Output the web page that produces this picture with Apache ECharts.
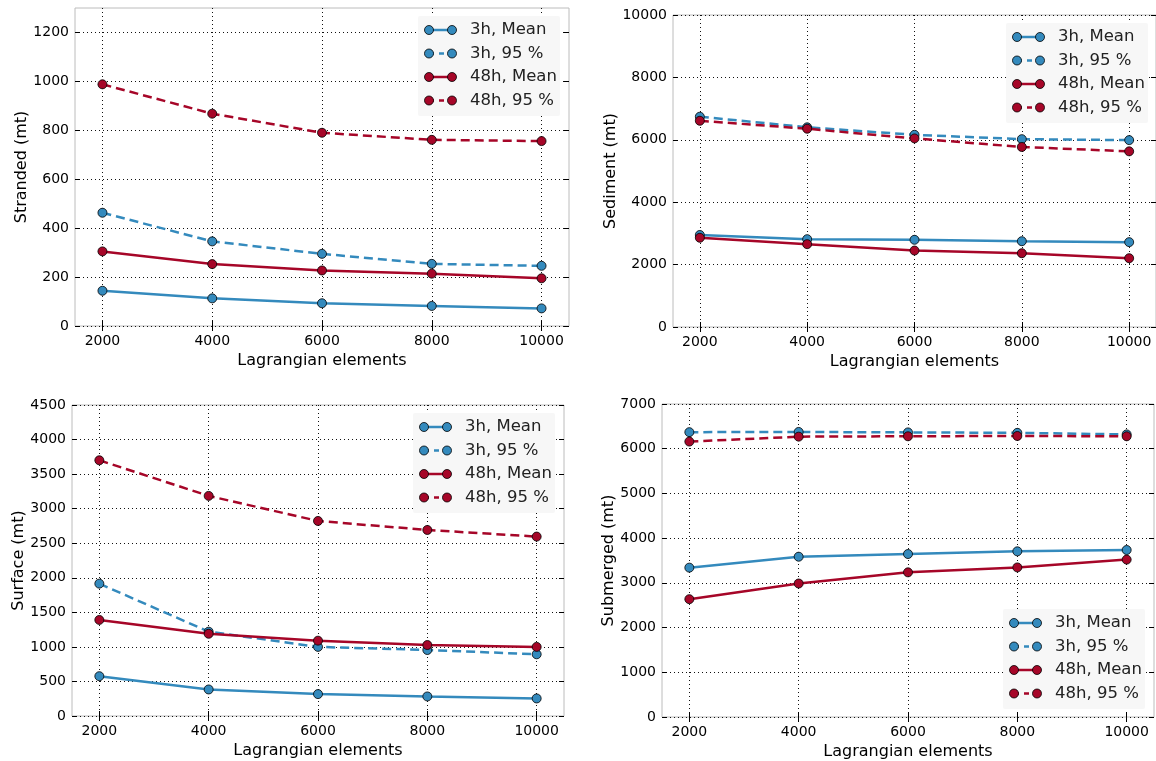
<!DOCTYPE html>
<html>
<head>
<meta charset="utf-8">
<script src="https://cdn.jsdelivr.net/npm/echarts@6/dist/echarts.min.js"></script>
<style>
  html, body { margin: 0; padding: 0; background: #fff; }
  #chart { width: 1156px; height: 761px; }
</style>
</head>
<body>
<div id="chart"></div>
<script>
// x values (number of Lagrangian elements)
const elements = [2000, 4000, 6000, 8000, 10000];
const seriesNames = ["3h, Mean", "3h, 95 %", "48h, Mean", "48h, 95 %"];

// stranded (mt)
const stranded3hMean = [144, 113, 93, 82, 72];
const stranded3h95 = [463, 346, 295, 254, 246];
const stranded48hMean = [305, 253, 227, 214, 195];
const stranded48h95 = [988, 868, 790, 761, 756];

// sediment (mt)
const sediment3hMean = [2950, 2815, 2795, 2750, 2720];
const sediment3h95 = [6740, 6400, 6160, 6020, 5990];
const sediment48hMean = [2860, 2655, 2450, 2365, 2205];
const sediment48h95 = [6610, 6355, 6045, 5770, 5630];

// surface (mt)
const surface3hMean = [576, 384, 317, 283, 254];
const surface3h95 = [1915, 1220, 1000, 955, 893];
const surface48hMean = [1390, 1190, 1090, 1027, 1000];
const surface48h95 = [3700, 3185, 2822, 2692, 2596];

// submerged (mt)
const submerged3hMean = [3340, 3585, 3645, 3705, 3735];
const submerged3h95 = [6370, 6375, 6365, 6355, 6320];
const submerged48hMean = [2635, 2985, 3235, 3345, 3520];
const submerged48h95 = [6160, 6270, 6278, 6285, 6278];

// tick labels
const xTicks = [2000, 4000, 6000, 8000, 10000];
const strandedTicks = [0, 200, 400, 600, 800, 1000, 1200];
const sedimentTicks = [0, 2000, 4000, 6000, 8000, 10000];
const surfaceTicks = [0, 500, 1000, 1500, 2000, 2500, 3000, 3500, 4000, 4500];
const submergedTicks = [0, 1000, 2000, 3000, 4000, 5000, 6000, 7000];

const BLUE = "#348ABD";
const RED = "#A60628";
const FONT = "DejaVu Sans";
const colors = [BLUE, BLUE, RED, RED];
const dashed = [false, true, false, true];

const panels = [
  { grid: { left: 75, top: 8, width: 494, height: 318 }, yName: "Stranded (mt)", yMax: 1300, yTicks: strandedTicks, nameGap: 33, legend: "top",
    data: [stranded3hMean, stranded3h95, stranded48hMean, stranded48h95] },
  { grid: { left: 673, top: 15, width: 484, height: 312 }, yName: "Sediment (mt)", yMax: 10000, yTicks: sedimentTicks, nameGap: 45, legend: "top",
    data: [sediment3hMean, sediment3h95, sediment48hMean, sediment48h95] },
  { grid: { left: 72, top: 405, width: 492, height: 311 }, yName: "Surface (mt)", yMax: 4500, yTicks: surfaceTicks, nameGap: 42, legend: "top",
    data: [surface3hMean, surface3h95, surface48hMean, surface48h95] },
  { grid: { left: 662, top: 404, width: 492, height: 313 }, yName: "Submerged (mt)", yMax: 7000, yTicks: submergedTicks, nameGap: 42, legend: "bottom",
    data: [submerged3hMean, submerged3h95, submerged48hMean, submerged48h95] }
];

const grids = [], xAxes = [], yAxes = [], series = [], graphics = [];
const tickStyle = { show: true, inside: true, length: 5, lineStyle: { color: "#000", width: 1 } };
const gridLine = { show: true, lineStyle: { color: "#111", width: 1, type: [1, 3] } };
const plain = v => String(v);

panels.forEach((p, i) => {
  grids.push(Object.assign({ show: true, borderColor: "#bcbcbc", borderWidth: 1, backgroundColor: "#fff" }, p.grid));
});

// primary axes
panels.forEach((p, i) => {
  xAxes.push({
    type: "value", gridIndex: i, min: 1500, max: 10500,
    name: "Lagrangian elements", nameLocation: "middle", nameGap: 27,
    nameTextStyle: { fontFamily: FONT, fontSize: 16, color: "#000" },
    axisLine: { show: false },
    axisTick: Object.assign({ customValues: xTicks }, tickStyle),
    axisLabel: { customValues: xTicks, formatter: plain, margin: 8, fontFamily: FONT, fontSize: 14, color: "#000" },
    splitLine: gridLine
  });
  yAxes.push({
    type: "value", gridIndex: i, min: 0, max: p.yMax,
    name: p.yName, nameLocation: "middle", nameRotate: 90, nameGap: p.nameGap,
    nameTextStyle: { fontFamily: FONT, fontSize: 16, color: "#000" },
    axisLine: { show: false },
    axisTick: Object.assign({ customValues: p.yTicks }, tickStyle),
    axisLabel: { customValues: p.yTicks, formatter: plain, margin: 6, fontFamily: FONT, fontSize: 14, color: "#000" },
    splitLine: gridLine
  });
});
// mirrored tick marks on top and right
panels.forEach((p, i) => {
  xAxes.push({
    type: "value", gridIndex: i, position: "top", min: 1500, max: 10500,
    axisLine: { show: false }, axisLabel: { show: false }, splitLine: { show: false },
    axisTick: Object.assign({ customValues: xTicks }, tickStyle)
  });
  yAxes.push({
    type: "value", gridIndex: i, position: "right", min: 0, max: p.yMax,
    axisLine: { show: false }, axisLabel: { show: false }, splitLine: { show: false },
    axisTick: Object.assign({ customValues: p.yTicks }, tickStyle)
  });
});

panels.forEach((p, i) => {
  p.data.forEach((vals, k) => {
    series.push({
      name: seriesNames[k], type: "line", xAxisIndex: i, yAxisIndex: i,
      data: elements.map((x, j) => [x, vals[j]]),
      symbol: "circle", symbolSize: 9, showSymbol: true,
      lineStyle: { color: colors[k], width: 2.5, type: dashed[k] ? [9, 5] : "solid" },
      itemStyle: { color: colors[k], borderColor: "#000", borderWidth: 0.8 },
      emphasis: { disabled: true },
      z: 2 + k
    });
  });

  // legend box in matplotlib style
  const g = p.grid;
  const boxW = 142, boxH = 100;
  const bx = g.left + g.width - 9 - boxW;
  const by = p.legend === "top" ? g.top + 8 : g.top + g.height - 8 - boxH;
  graphics.push({ type: "rect", z: 100, shape: { x: bx, y: by, width: boxW, height: boxH, r: 2 }, style: { fill: "#f7f7f7" } });
  seriesNames.forEach((name, k) => {
    const cy = by + 14 + k * 23.5;
    graphics.push({
      type: "line", z: 101, shape: { x1: bx + 11, y1: cy, x2: bx + 34, y2: cy },
      style: { stroke: colors[k], lineWidth: 2.5, lineDash: dashed[k] ? [5, 5] : null }
    });
    [11, 34].forEach(dx => graphics.push({
      type: "circle", z: 102, shape: { cx: bx + dx, cy: cy, r: 4.5 },
      style: { fill: colors[k], stroke: "#000", lineWidth: 0.8 }
    }));
    graphics.push({
      type: "text", z: 102, left: bx + 52, top: cy - 10,
      style: { text: name, fontFamily: FONT, fontSize: 16.5, fill: "#222", lineHeight: 20 }
    });
  });
});

const chart = echarts.init(document.getElementById("chart"));
chart.setOption({
  animation: false,
  backgroundColor: "#fff",
  grid: grids,
  xAxis: xAxes,
  yAxis: yAxes,
  series: series,
  graphic: graphics
});
</script>
</body>
</html>
